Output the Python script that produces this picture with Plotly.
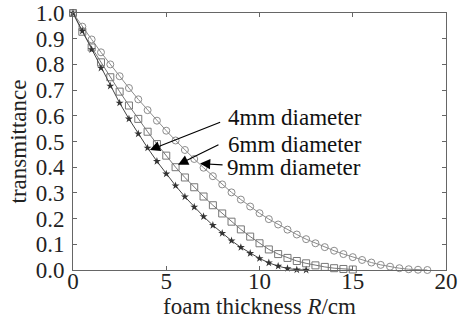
import plotly.graph_objects as go

# ---- data ----
x_4mm = [i * 0.5 for i in range(26)]          # 0 .. 12.5
t_4mm = [1.0, 0.93, 0.858, 0.786, 0.716, 0.65, 0.588, 0.53, 0.475, 0.423,
         0.374, 0.328, 0.285, 0.245, 0.208, 0.174, 0.143, 0.114, 0.088, 0.065,
         0.045, 0.028, 0.015, 0.006, 0.001, 0.0]

x_6mm = [i * 0.5 for i in range(31)]          # 0 .. 15
t_6mm = [1.0, 0.927, 0.866, 0.808, 0.75, 0.694, 0.64, 0.588, 0.538, 0.49,
         0.445, 0.40, 0.36, 0.322, 0.286, 0.252, 0.22, 0.188, 0.158, 0.13,
         0.104, 0.08, 0.062, 0.047, 0.035, 0.026, 0.018, 0.012, 0.007, 0.004,
         0.002]

x_9mm = [i * 0.5 for i in range(39)]          # 0 .. 19
t_9mm = [1.0, 0.947, 0.897, 0.847, 0.80, 0.754, 0.708, 0.664, 0.622, 0.581,
         0.542, 0.504, 0.467, 0.432, 0.398, 0.365, 0.333, 0.302, 0.274, 0.247,
         0.221, 0.198, 0.177, 0.157, 0.138, 0.12, 0.104, 0.089, 0.075, 0.062,
         0.05, 0.039, 0.029, 0.02, 0.013, 0.007, 0.003, 0.001, 0.0]

x_ticks = [0, 5, 10, 15, 20]
y_ticks = [0.0, 0.1, 0.2, 0.3, 0.4, 0.5, 0.6, 0.7, 0.8, 0.9, 1.0]
y_tick_text = ["0.0", "0.1", "0.2", "0.3", "0.4", "0.5", "0.6", "0.7", "0.8", "0.9", "1.0"]

labels = ["4mm diameter", "6mm diameter", "9mm diameter"]
# label anchors (data coords) and arrow tail/head (data coords)
label_pos = [(8.2, 0.595), (8.2, 0.49), (8.15, 0.398)]
arrow_tail = [(7.97, 0.577), (7.88, 0.49), (8.1, 0.409)]
arrow_head = [(4.12, 0.467), (5.63, 0.41), (6.81, 0.414)]

FONT = "Liberation Serif"

fig = go.Figure()
fig.add_trace(go.Scatter(
    x=x_9mm, y=t_9mm, mode="lines+markers", cliponaxis=False,
    line=dict(color="#8c8c8c", width=1),
    marker=dict(symbol="circle-open", size=7, color="#8c8c8c", line=dict(width=1)),
    showlegend=False, hoverinfo="skip"))
fig.add_trace(go.Scatter(
    x=x_6mm, y=t_6mm, mode="lines+markers", cliponaxis=False,
    line=dict(color="#777777", width=1),
    marker=dict(symbol="square-open", size=7, color="#777777", line=dict(width=1)),
    showlegend=False, hoverinfo="skip"))
fig.add_trace(go.Scatter(
    x=x_4mm, y=t_4mm, mode="lines+markers", cliponaxis=False,
    line=dict(color="#444444", width=1),
    marker=dict(symbol="star", size=6, color="#333333"),
    showlegend=False, hoverinfo="skip"))

annotations = []
for lab, (lx, ly), (tx, ty), (hx, hy) in zip(labels, label_pos, arrow_tail, arrow_head):
    annotations.append(dict(
        x=lx, y=ly, xref="x", yref="y", text=lab, showarrow=False,
        xanchor="left", yanchor="middle",
        font=dict(family=FONT, size=23, color="#111111")))
    annotations.append(dict(
        x=hx, y=hy, ax=tx, ay=ty, xref="x", yref="y", axref="x", ayref="y",
        text="", showarrow=True, arrowhead=2, arrowsize=1.7, arrowwidth=1.2,
        arrowcolor="#000000"))

axis_common = dict(
    showline=True, linecolor="#666666", linewidth=1, mirror="ticks",
    ticks="inside", ticklen=4, tickcolor="#666666", showgrid=False,
    zeroline=False, automargin=False,
    tickfont=dict(family=FONT, size=23, color="#222222"))

fig.update_layout(
    width=458, height=326,
    margin=dict(l=73, r=12, t=13, b=56, autoexpand=False),
    paper_bgcolor="white", plot_bgcolor="white",
    font=dict(family=FONT),
    xaxis=dict(range=[0, 20], tickvals=x_ticks, ticklabelstandoff=-10,
               title=dict(text="foam thickness <i>R</i>/cm", standoff=2,
                          font=dict(family=FONT, size=23, color="#222222")),
               **axis_common),
    yaxis=dict(range=[0, 1], tickvals=y_ticks, ticktext=y_tick_text,
               ticklabelstandoff=3,
               title=dict(text="transmittance", standoff=2,
                          font=dict(family=FONT, size=23, color="#222222")),
               **axis_common),
    annotations=annotations,
)

fig.write_html("out.html", config={"displayModeBar": False, "staticPlot": True},
               post_script="document.body.style.margin='0';document.body.style.overflow='hidden';")
